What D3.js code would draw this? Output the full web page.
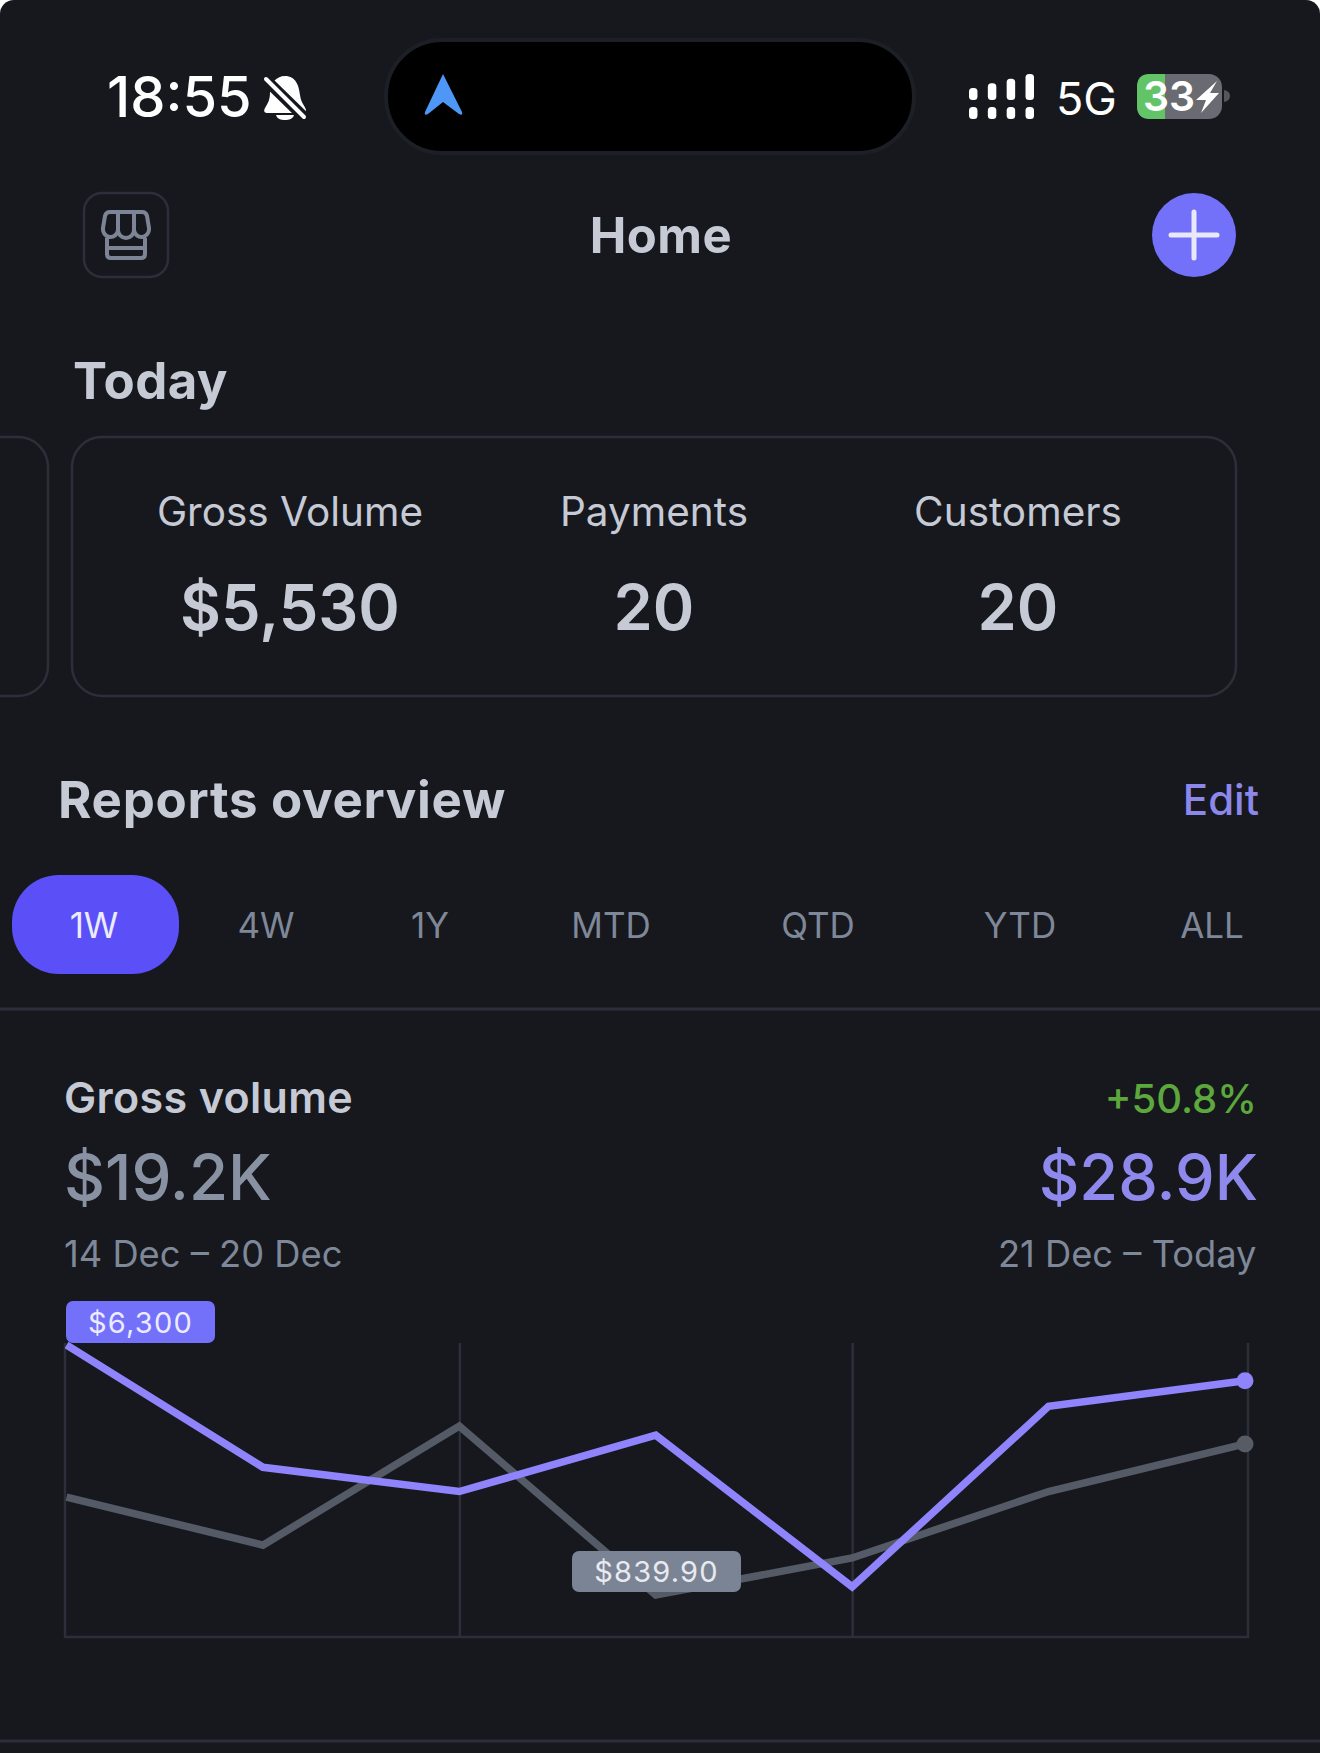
<!DOCTYPE html>
<html>
<head>
<meta charset="utf-8">
<script src="https://cdn.jsdelivr.net/npm/d3@7"></script>
<style>
  html, body { margin: 0; padding: 0; background: #fff; }
  svg { display: block; }
  text { font-family: Inter, "Noto Sans", sans-serif; }
</style>
</head>
<body>
<div id="screen"></div>
<script>
// chart data
const days = ["21 Dec", "22 Dec", "23 Dec", "24 Dec", "25 Dec", "26 Dec", "27 Dec"];
const thisPeriod = [6300, 3630, 3100, 4330, 1020, 4960, 5520];
const lastPeriod = [2980, 1930, 4530, 839.9, 1650, 3100, 4140];
const gridDays = ["23 Dec", "25 Dec"];

// text on the screen
const rangeTabs = ["1W", "4W", "1Y", "MTD", "QTD", "YTD", "ALL"];
const statLabels = ["Gross Volume", "Payments", "Customers"];
const statValues = ["$5,530", "20", "20"];
const signalBars = [0, 1, 2, 3];

const svgWidth = 1320;
const svgHeight = 1753;

const bg = "#16181e";
const border = "#2c2f39";
const textLight = "#c6cad5";
const textMuted = "#7f8899";
const indigo = "#7370fa";
const purpleLine = "#8f84fb";
const grayLine = "#555b66";

const svg = d3.select("#screen")
    .append("svg")
    .attr("width", svgWidth)
    .attr("height", svgHeight);

svg.append("rect")
    .attr("width", svgWidth)
    .attr("height", svgHeight + 30)
    .attr("rx", 14)
    .attr("fill", bg);

function label(x, y, str, size, weight, fill, anchor, spacing) {
    return svg.append("text")
        .attr("x", x)
        .attr("y", y)
        .attr("font-size", size)
        .attr("font-weight", weight)
        .attr("fill", fill)
        .attr("text-anchor", anchor || "start")
        .attr("letter-spacing", spacing || 0)
        .text(str);
}

// status bar
label(107, 117, "18:55", 56, 500, "#fff");

svg.append("path")
    .attr("d", "M285,76 C296,76 299,86 300,95 C301,103 305,106 306,110 C306,113 304,113 302,113 L268,113 C265,113 263,112 265,108 C268,103 270,100 270,92 C270,84 276,76 285,76 Z M276,115 L294,115 C293,119 289,120 285,120 C281,120 277,119 276,115 Z")
    .attr("fill", "#fff");
svg.append("line")
    .attr("x1", 262).attr("y1", 76).attr("x2", 306).attr("y2", 119)
    .attr("stroke", bg).attr("stroke-width", 11);
svg.append("line")
    .attr("x1", 266).attr("y1", 79).attr("x2", 304).attr("y2", 117)
    .attr("stroke", "#fff").attr("stroke-width", 4).attr("stroke-linecap", "round");

svg.append("rect")
    .attr("x", 386).attr("y", 40)
    .attr("width", 528).attr("height", 113)
    .attr("rx", 56)
    .attr("fill", "#000")
    .attr("stroke", "#1d1f26")
    .attr("stroke-width", 4);

svg.append("path")
    .attr("d", "M443,74 L462,112 Q463,116 459,114 L443,102 L428,114 Q424,116 425,112 Z")
    .attr("fill", "#4f97f6");

const signalX = d3.scaleBand().domain(signalBars).range([969, 1034]).paddingInner(0.55);
const signalTop = d3.scaleLinear().domain([0, 3]).range([88, 74]);

svg.selectAll(".sig-top")
    .data(signalBars)
    .enter()
    .append("rect")
    .attr("class", "sig-top")
    .attr("x", d => signalX(d))
    .attr("y", d => signalTop(d))
    .attr("width", signalX.bandwidth())
    .attr("height", d => 100 - signalTop(d))
    .attr("rx", 3.5)
    .attr("fill", "#fff");

svg.selectAll(".sig-bottom")
    .data(signalBars)
    .enter()
    .append("rect")
    .attr("class", "sig-bottom")
    .attr("x", d => signalX(d))
    .attr("y", 107)
    .attr("width", signalX.bandwidth())
    .attr("height", 12)
    .attr("rx", 3.5)
    .attr("fill", "#fff");

label(1056, 115, "5G", 45, 400, "#fff");

svg.append("rect")
    .attr("x", 1137).attr("y", 74)
    .attr("width", 85).attr("height", 45)
    .attr("rx", 13)
    .attr("fill", "#6a6b72");
svg.append("path")
    .attr("d", "M1165,74 L1150,74 Q1137,74 1137,87 L1137,106 Q1137,119 1150,119 L1165,119 Z")
    .attr("fill", "#62c467");
svg.append("path")
    .attr("d", "M1224,90 Q1230,91 1230,96 Q1230,101 1224,102 Z")
    .attr("fill", "#55565c");
label(1143, 111, "33", 41, 600, "#fff");
svg.append("path")
    .attr("d", "M1217,81 L1196,100 L1206,100 L1201,113 L1219,93 L1210,93 Z")
    .attr("fill", "#fff");

// header row
svg.append("rect")
    .attr("x", 84).attr("y", 193)
    .attr("width", 84).attr("height", 84)
    .attr("rx", 18)
    .attr("fill", "none")
    .attr("stroke", border)
    .attr("stroke-width", 2.5);

svg.append("path")
    .attr("d", "M110,212 H142 Q146,212 147,216 L149,228 A7.5,8 0 0 1 134,230 A8,8 0 0 1 118,230 A7.5,8 0 0 1 103,228 L105,216 Q106,212 110,212 Z M118,212 V230 M134,212 V230 M107,238 V254 Q107,258 111,258 H141 Q145,258 145,254 V238 M107,248 H145")
    .attr("fill", "none")
    .attr("stroke", "#7c8496")
    .attr("stroke-width", 4);

label(661, 252.5, "Home", 49, 700, textLight, "middle", 0.5);

svg.append("circle")
    .attr("cx", 1194).attr("cy", 235).attr("r", 42)
    .attr("fill", indigo);
svg.append("path")
    .attr("d", "M1171,235 H1217 M1194,212 V258")
    .attr("stroke", "#e8e8f6")
    .attr("stroke-width", 5)
    .attr("stroke-linecap", "round");

// today card
label(73, 399, "Today", 51, 700, textLight, "start", 0.4);

svg.append("rect")
    .attr("x", -300).attr("y", 437)
    .attr("width", 348).attr("height", 259)
    .attr("rx", 30)
    .attr("fill", "none")
    .attr("stroke", border)
    .attr("stroke-width", 2.5);
svg.append("rect")
    .attr("x", 72).attr("y", 437)
    .attr("width", 1164).attr("height", 259)
    .attr("rx", 30)
    .attr("fill", "none")
    .attr("stroke", border)
    .attr("stroke-width", 2.5);

const statX = d3.scalePoint().domain(statLabels).range([290, 1018]);

statLabels.forEach((name, i) => {
    label(statX(name), 526, name, 40.5, 400, textLight, "middle");
    label(statX(name), 630, statValues[i], 63, 600, textLight, "middle");
});

// reports header
label(58, 818, "Reports overview", 51, 700, textLight, "start", 0.7);
label(1259, 815, "Edit", 42, 500, "#8c87ea", "end");

// range tabs
const tabCentres = [94, 266, 430, 611, 818, 1020, 1212];

svg.append("rect")
    .attr("x", 12).attr("y", 875)
    .attr("width", 167).attr("height", 99)
    .attr("rx", 47)
    .attr("fill", "#5b50f8");

rangeTabs.forEach((tab, i) => {
    label(tabCentres[i], 938, tab, 35, 400, i === 0 ? "#ecebff" : textMuted, "middle");
});

svg.append("line")
    .attr("x1", 0).attr("x2", svgWidth)
    .attr("y1", 1009).attr("y2", 1009)
    .attr("stroke", border)
    .attr("stroke-width", 3);

// gross volume summary
label(64, 1113, "Gross volume", 43, 600, textLight, "start", 0.35);
label(1257, 1113, "+50.8%", 40, 500, "#5ca83c", "end");
label(64, 1199.5, "$19.2K", 63.5, 500, "#8892a3");
label(1258, 1199.5, "$28.9K", 63, 500, "#8f89ee", "end");
label(64, 1267, "14 Dec \u2013 20 Dec", 36.3, 400, textMuted);
label(1256.5, 1267, "21 Dec \u2013 Today", 36.3, 400, textMuted, "end");

// line chart
const chartLeft = 65;
const chartRight = 1248;
const chartBottom = 1637;
const chartTop = 1343;

const xScale = d3.scalePoint().domain(days).range([66.5, 1245]);
const yScale = d3.scaleLinear().domain([0, 6300]).range([1633.5, 1345]);

const gridAxis = d3.axisBottom(xScale)
    .tickValues(gridDays)
    .tickSize(chartTop - chartBottom)
    .tickSizeOuter(0)
    .tickFormat("");

const grid = svg.append("g")
    .attr("transform", `translate(0, ${chartBottom})`)
    .call(gridAxis);
grid.select(".domain").remove();

grid.append("path")
    .attr("d", `M${chartLeft},${chartTop - chartBottom} V0 H${chartRight} V${chartTop - chartBottom}`)
    .attr("fill", "none");
grid.selectAll("path, line")
    .attr("stroke", border)
    .attr("stroke-width", 2.5);

svg.append("clipPath")
    .attr("id", "plot-clip")
    .append("rect")
    .attr("x", chartLeft).attr("y", chartTop - 3)
    .attr("width", 1200).attr("height", 300);

const lineGen = d3.line()
    .x((d, i) => xScale(days[i]))
    .y(d => yScale(d));

const lineGroup = svg.append("g").attr("clip-path", "url(#plot-clip)");

lineGroup.append("path")
    .datum(lastPeriod)
    .attr("d", lineGen)
    .attr("fill", "none")
    .attr("stroke", grayLine)
    .attr("stroke-width", 7.5);

lineGroup.append("path")
    .datum(thisPeriod)
    .attr("d", lineGen)
    .attr("fill", "none")
    .attr("stroke", purpleLine)
    .attr("stroke-width", 7.5);

svg.append("circle")
    .attr("cx", xScale(days[6]))
    .attr("cy", yScale(lastPeriod[6]))
    .attr("r", 8.5)
    .attr("fill", "#575b64");
svg.append("circle")
    .attr("cx", xScale(days[6]))
    .attr("cy", yScale(thisPeriod[6]))
    .attr("r", 8.5)
    .attr("fill", purpleLine);

// value badges
function badge(x, y, w, h, str, fill, textFill) {
    svg.append("rect")
        .attr("x", x).attr("y", y)
        .attr("width", w).attr("height", h)
        .attr("rx", 7)
        .attr("fill", fill);
    label(x + w / 2, y + h - 10, str, 29, 400, textFill, "middle", 1.2);
}

badge(66, 1301, 149, 42, "$6,300", indigo, "#ecebff");
badge(572, 1551, 169, 41, "$839.90", "#7b8494", "#e8eaf0");

// bottom divider
svg.append("line")
    .attr("x1", 0).attr("x2", svgWidth)
    .attr("y1", 1741).attr("y2", 1741)
    .attr("stroke", border)
    .attr("stroke-width", 3);
</script>
</body>
</html>
